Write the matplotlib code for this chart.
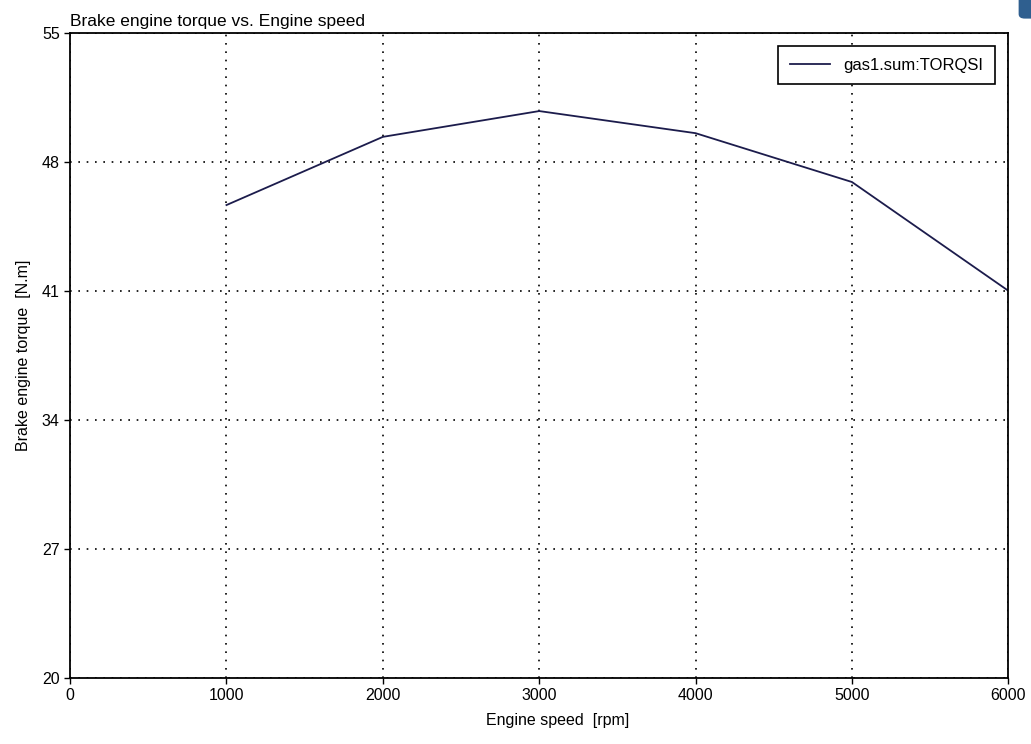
import matplotlib.pyplot as plt
from matplotlib.patches import FancyBboxPatch

plt.rcParams['font.family'] = ['Liberation Sans', 'DejaVu Sans']

# engine speed sweep and brake torque
speed_rpm = [1000, 2000, 3000, 4000, 5000, 6000]
torque_nm = [45.65, 49.35, 50.75, 49.55, 46.9, 41.0]
x_ticks = [0, 1000, 2000, 3000, 4000, 5000, 6000]
y_ticks = [20, 27, 34, 41, 48, 55]

fig = plt.figure(figsize=(10.31, 7.44), dpi=100)
ax = fig.add_axes([0.068, 0.089, 0.910, 0.867])

ax.plot(speed_rpm, torque_nm, color='#1c1c4c', linewidth=1.3, label='gas1.sum:TORQSI')

ax.set_xlim(0, 6000)
ax.set_ylim(20, 55)
ax.set_xticks(x_ticks)
ax.set_yticks(y_ticks)
ax.grid(True, color='black', linestyle=(0, (1, 4)), linewidth=1.2)
ax.tick_params(direction='out', length=4, width=1, labelsize=11.5, colors='black')
for s in ax.spines.values():
    s.set_linewidth(1.3)

ax.set_xlabel('Engine speed  [rpm]', fontsize=11.5, labelpad=9)
ax.xaxis.set_label_coords(0.52, -0.055)
ax.set_ylabel('Brake engine torque  [N.m]', fontsize=11.5, labelpad=8)
ax.set_title('Brake engine torque vs. Engine speed', fontsize=12.5, loc='left', pad=5)

leg = ax.legend(loc='upper right', fontsize=12, fancybox=False, framealpha=1,
                edgecolor='black', handlelength=2.4, borderpad=0.7, borderaxespad=0.8)
leg.get_frame().set_linewidth(1.2)

# small blue tab at the top-right corner
fig.patches.append(FancyBboxPatch((0.988, 0.975), 0.03, 0.04, boxstyle='round,pad=0,rounding_size=0.006',
                                  transform=fig.transFigure, facecolor='#2f5f8f', edgecolor='none'))

fig.savefig('out.png', dpi=100)
